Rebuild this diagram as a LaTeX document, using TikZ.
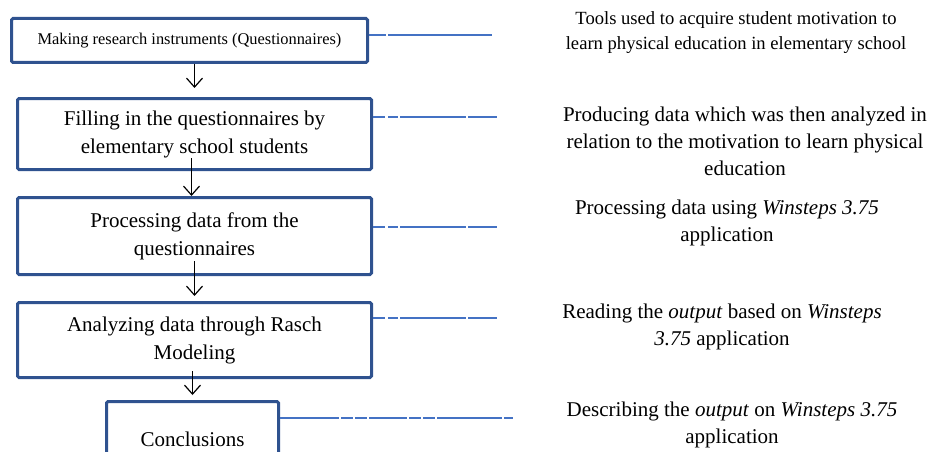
\documentclass[tikz,border=0pt]{standalone}
\usepackage{fontspec}
\setmainfont{Liberation Serif}
\usepackage{xcolor}
\usepackage{tikz}
\usetikzlibrary{arrows.meta, positioning, calc}
\definecolor{boxblue}{HTML}{2F528F}
\definecolor{lineblue}{HTML}{4472C4}

\begin{document}
\begin{tikzpicture}[
    x=1pt, y=1pt,
    stepbox/.style={draw=boxblue, line width=3pt, rounded corners=1.5pt, minimum width=354pt, minimum height=73pt, font=\fontsize{21}{28}\selectfont, align=center, inner sep=2pt},
    note/.style={font=\fontsize{21}{27}\selectfont, align=center, inner sep=0pt},
    flow/.style={-{Straight Barb[length=9pt, width=16pt]}, line width=1.2pt},
    link/.style={lineblue, line width=2pt},
    linkdash/.style={dash pattern=on 12pt off 3pt on 10pt off 2pt on 66pt off 2pt on 32pt},
]
\useasboundingbox (0,0) rectangle (932,-452);
\clip (0,0) rectangle (932,-452);

% Steps
\node[stepbox, minimum width=356pt, minimum height=44pt, font=\fontsize{16.4}{20}\selectfont, anchor=north west] (instr) at (10,-17) {Making research instruments (Questionnaires)};
\node[stepbox, minimum height=71pt, anchor=north west] (fill) at (16,-97) {Filling in the questionnaires by\\elementary school students};
\node[stepbox, below=25pt of fill, minimum height=77pt] (proc) {Processing data from the\\questionnaires};
\node[stepbox, below=25pt of proc, minimum height=75pt] (anal) {Analyzing data through Rasch\\Modeling};
\node[stepbox, minimum width=172pt, minimum height=75pt, anchor=north west] (concl) at (105,-400) {Conclusions};

% Notes
\node[note, font=\fontsize{18.6}{25}\selectfont] (tools) at (736,-33) {Tools used to acquire student motivation to\\learn physical education in elementary school};
\node[note] (produce) at (745,-141) {Producing data which was then analyzed in\\relation to the motivation to learn physical\\education};
\node[note] (winproc) at (727,-223) {Processing data using \textit{Winsteps 3.75}\\application};
\node[note] (reading) at (722,-327) {Reading the \textit{output} based on \textit{Winsteps}\\\textit{3.75} application};
\node[note] (describe) at (732,-425) {Describing the \textit{output} on \textit{Winsteps 3.75}\\application};

% Link ends
\coordinate (instr-end) at (492,-35);
\coordinate (fill-end) at (497,-117);
\coordinate (proc-end) at (497,-227);
\coordinate (anal-end) at (497,-318);
\coordinate (concl-end) at (513,-418);

% Links
\draw[link, dash pattern=on 17pt off 2pt on 107pt] (instr.east |- instr-end) -- (instr-end);
\draw[link, linkdash] (fill.east |- fill-end) -- (fill-end);
\draw[link, linkdash] (proc.east |- proc-end) -- (proc-end);
\draw[link, linkdash] (anal.east |- anal-end) -- (anal-end);
\draw[link, dash pattern=on 59pt off 2pt on 12pt off 2pt on 12pt off 2pt on 38pt off 2pt on 12pt off 2pt on 12pt off 2pt on 65pt off 2pt on 12pt] (concl.east |- concl-end) -- (concl-end);

% Flows
\draw[flow, shorten >=9pt] (instr.south -| fill.north) -- (fill.north);
\draw[flow] ([xshift=-3pt, yshift=13pt]fill.south) -- ([xshift=-3pt]proc.north);
\draw[flow, shorten >=5pt] ([yshift=15pt]proc.south) -- (anal.north);
\draw[flow, shorten >=5pt] ([yshift=8pt]anal.south -| concl.north) -- (concl.north);

\end{tikzpicture}
\end{document}
